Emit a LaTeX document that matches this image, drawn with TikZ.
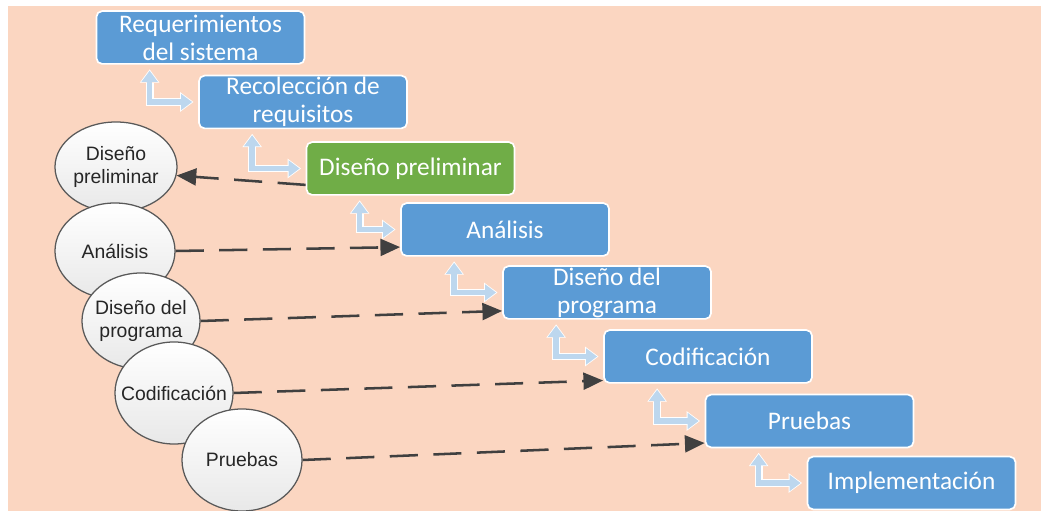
\documentclass[tikz,border=0pt]{standalone}
\usepackage{fontspec}
\setmainfont{Carlito}
\newfontfamily\circfont{Liberation Sans}
\usetikzlibrary{shapes.geometric,arrows.meta}

\definecolor{peach}{HTML}{FBD6C1}
\definecolor{stepblue}{HTML}{5B9BD5}
\definecolor{stepgreen}{HTML}{70AD47}
\definecolor{linkblue}{HTML}{BDD7EE}
\definecolor{dashgray}{HTML}{404040}

\tikzset{
  phase/.style={draw=white, line width=1.2pt, fill=stepblue, rounded corners=4pt,
    minimum width=5.2cm, minimum height=1.32cm, inner sep=0pt, align=center,
    text=white, font=\fontsize{18}{20}\selectfont},
  activity/.style={ellipse, draw=black!65, line width=0.9pt, top color=white,
    bottom color=black!9, inner sep=0pt},
  acttext/.style={text=black!85, align=center, font=\circfont\fontsize{13.8}{16}\selectfont},
  linkback/.style={white, line width=5.6pt, shorten <=3.3pt, shorten >=3.3pt,
    {Triangle[length=9.5pt,width=14pt,line width=0pt]}-{Triangle[length=9.5pt,width=14pt,line width=0pt]}},
  linkfront/.style={linkblue, line width=4pt, shorten <=4.3pt, shorten >=4.3pt,
    {Triangle[length=7.8pt,width=11.6pt,line width=0pt]}-{Triangle[length=7.8pt,width=11.6pt,line width=0pt]}},
  backlink/.style={dashgray, line width=1.8pt, dash pattern=on 20pt off 11pt,
    -{Triangle[length=14pt,width=12pt]}},
}

\begin{document}
\begin{tikzpicture}[x=0.025cm, y=-0.025cm]
\useasboundingbox (0,0) rectangle (1041,511);
\fill[peach] (8,6) rectangle (1041,511);

% cascade of phases
\node[phase] (rs) at (200.5,37.5) {Requerimientos\\del sistema};
\node[phase] (rr) at (303,102) {Recolección de\\requisitos};
\node[phase, fill=stepgreen] (dp) at (410.5,168.5) {Diseño preliminar};
\node[phase] (an) at (505,229.5) {Análisis};
\node[phase] (dg) at (607,292.5) {Diseño del\\programa};
\node[phase] (cd) at (708,356.5) {Codificación};
\node[phase] (pr) at (809.5,421) {Pruebas};
\node[phase] (im) at (911.5,483) {Implementación};

\foreach \a/\b in {rs/rr, rr/dp, dp/an, an/dg, dg/cd, cd/pr, pr/im} {
  \draw[linkback] ([xshift=1.35cm]\a.south west) |- (\b.west);
  \draw[linkfront] ([xshift=1.35cm]\a.south west) |- (\b.west);
}

% activities
\node[activity, minimum width=3.05cm, minimum height=2.25cm,
  label={[acttext]center:Diseño\\preliminar}] (c1) at (116,167) {};
\node[activity, minimum width=3.0cm, minimum height=2.4cm,
  label={[acttext]center:Análisis}] (c2) at (115,251) {};
\node[activity, minimum width=2.95cm, minimum height=2.4cm,
  label={[acttext]center:Diseño del\\programa}] (c3) at (141,321) {};
\node[activity, minimum width=2.95cm, minimum height=2.55cm,
  label={[acttext]center:Codificación}] (c4) at (174,393) {};
\node[activity, minimum width=3.0cm, minimum height=2.55cm,
  label={[acttext]center:Pruebas}] (c5) at (242,460) {};

\draw[backlink] ([yshift=-0.41cm]dp.west) -- (c1.-8);
\draw[backlink] (c2.east) -- ([yshift=-0.44cm]an.west);
\draw[backlink] (c3.east) -- ([yshift=-0.46cm]dg.west);
\draw[backlink] (c4.east) -- ([yshift=-0.6cm]cd.west);
\draw[backlink] (c5.east) -- ([yshift=-0.55cm]pr.west);
\end{tikzpicture}
\end{document}
